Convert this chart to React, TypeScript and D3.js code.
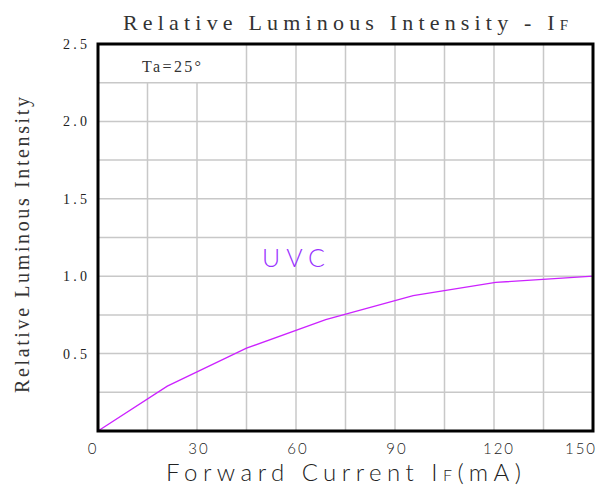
import React from "react";
import * as d3 from "d3";

const currentMA = [0, 21, 45, 69, 95.5, 120.5, 150];
const relIntensity = [0, 0.29, 0.535, 0.72, 0.875, 0.96, 1.0];
const xTicks = [0, 30, 60, 90, 120, 150];
const yTicks = [0.5, 1.0, 1.5, 2.0, 2.5];
const xGrid = [15, 30, 45, 60, 75, 90, 105, 120, 135];
const yGrid = [0.25, 0.5, 0.75, 1.0, 1.25, 1.5, 1.75, 2.0, 2.25];

const W = 603, H = 486;
const L = 98, R = 593, T = 44, B = 431;

export default function App() {
  const x = d3.scaleLinear().domain([0, 150]).range([L, R]);
  const y = d3.scaleLinear().domain([0, 2.5]).range([B, T]);
  const line = d3.line<number>().x((d, i) => x(currentMA[i])).y((d) => y(d));
  const serif = "'Liberation Serif', 'Times New Roman', serif";
  const thin = "Lato, 'Open Sans', sans-serif";
  const xLabelPos = (v: number, i: number) =>
    i === 0 ? x(v) - 5 : i === xTicks.length - 1 ? x(v) - 12 : v >= 100 ? x(v) + 5 : x(v) + 2;
  return (
    <svg width={W} height={H} style={{ position: "absolute", left: 0, top: 0, background: "#fff" }}>
      <rect x={0} y={0} width={W} height={H} fill="#fff" />
      {yGrid.map((v) => (
        <line key={"h" + v} x1={L} x2={R} y1={y(v)} y2={y(v)} stroke="#c8c8c8" strokeWidth={1.5} />
      ))}
      {xGrid.map((v) => (
        <line key={"v" + v} x1={x(v)} x2={x(v)} y1={v < 45 ? y(2.25) : T} y2={B} stroke="#c8c8c8" strokeWidth={1.5} />
      ))}
      <path d={line(relIntensity) || ""} fill="none" stroke="#cc22ff" strokeWidth={1.3} />
      <rect x={L} y={T} width={R - L} height={B - T} fill="none" stroke="#000" strokeWidth={3} />
      {yTicks.map((v) => (
        <text key={"yt" + v} x={63} y={y(v)} dy="0.35em" textAnchor="start" fontFamily={serif} fontSize={14}
          textLength={24} lengthAdjust="spacing" fill="#222">
          {v.toFixed(1)}
        </text>
      ))}
      {xTicks.map((v, i) => (
        <text key={"xt" + v} x={xLabelPos(v, i)} y={449} dy="0.35em"
          textAnchor="middle" fontFamily={thin} fontWeight={300} fontSize={15} letterSpacing={2} fill="#222">
          {v}
        </text>
      ))}
      <text x={123} y={30} textAnchor="start" fontFamily={serif} fontSize={22} textLength={445} lengthAdjust="spacing" fill="#333">
        Relative Luminous Intensity - I<tspan fontSize={15}>F</tspan>
      </text>
      <text transform={`translate(29,393) rotate(-90)`} textAnchor="start" fontFamily={serif} fontSize={20}
        textLength={296} lengthAdjust="spacing" fill="#333">
        Relative Luminous Intensity
      </text>
      <text x={142} y={66} dy="0.35em" textAnchor="start" fontFamily={serif} fontSize={16} textLength={59} lengthAdjust="spacing" fill="#333">
        Ta=25°
      </text>
      <text x={262} y={267} textAnchor="start" fontFamily={thin} fontWeight={300} fontSize={25} textLength={63} lengthAdjust="spacing" fill="#9933ff">
        UVC
      </text>
      <text x={166} y={481} textAnchor="start" fontFamily={thin} fontWeight={300} fontSize={24} textLength={355} lengthAdjust="spacing" fill="#222">
        Forward Current  I<tspan fontSize={16}>F</tspan>(mA)
      </text>
    </svg>
  );
}
